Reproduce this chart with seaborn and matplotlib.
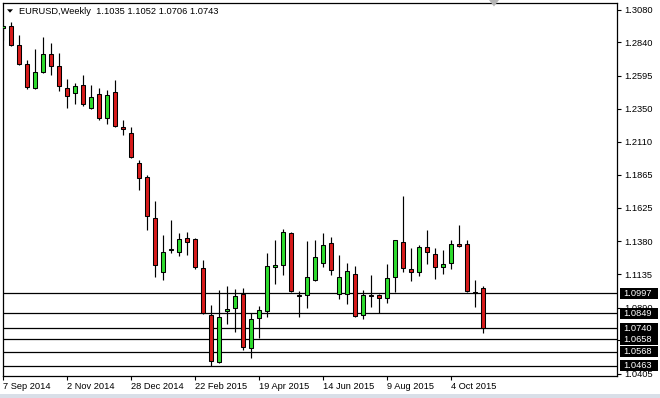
import matplotlib
matplotlib.use("Agg")
import matplotlib.pyplot as plt
import matplotlib.transforms as mtransforms
from matplotlib.patches import Rectangle, Polygon
import seaborn as sns
import numpy as np
import pandas as pd

# ---------------- data ----------------
symbol = "EURUSD,Weekly"
header_ohlc = ["1.1035", "1.1052", "1.0706", "1.0743"]

opens = [1.2946, 1.2959, 1.2819, 1.2680, 1.2505, 1.2621, 1.2753, 1.2665, 1.2503, 1.2467,
         1.2525, 1.2356, 1.2459, 1.2283, 1.2474, 1.2217, 1.2173, 1.1952, 1.1849, 1.1548,
         1.1151, 1.1320, 1.1298, 1.1401, 1.1394, 1.1181, 1.0835, 1.0490, 1.0865, 1.0887,
         1.0990, 1.0593, 1.0813, 1.0865, 1.1188, 1.1203, 1.1438, 1.0982, 1.0982, 1.1093,
         1.1217, 1.1364, 1.0990, 1.0990, 1.1137, 1.0835, 1.0982, 1.0982, 1.0960, 1.1115,
         1.1372, 1.1173, 1.1151, 1.1335, 1.1284, 1.1188, 1.1217, 1.1357, 1.1357, 1.1004,
         1.1035]
highs = [1.2968, 1.2988, 1.2895, 1.2711, 1.2787, 1.2878, 1.2834, 1.2760, 1.2569, 1.2540,
         1.2601, 1.2525, 1.2503, 1.2489, 1.2562, 1.2268, 1.2217, 1.1974, 1.1864, 1.1673,
         1.1423, 1.1533, 1.1438, 1.1445, 1.1405, 1.1239, 1.0909, 1.1019, 1.1051, 1.1026,
         1.1034, 1.0850, 1.0901, 1.1291, 1.1386, 1.1467, 1.1445, 1.1012, 1.1379, 1.1386,
         1.1438, 1.1408, 1.1276, 1.1217, 1.1195, 1.1018, 1.1129, 1.0990, 1.1210, 1.1390,
         1.1710, 1.1328, 1.1350, 1.1460, 1.1328, 1.1313, 1.1386, 1.1497, 1.1386, 1.1093,
         1.1052]
lows = [1.2858, 1.2815, 1.2669, 1.2493, 1.2500, 1.2615, 1.2601, 1.2478, 1.2356, 1.2386,
        1.2371, 1.2352, 1.2268, 1.2239, 1.2217, 1.2158, 1.1993, 1.1754, 1.1460, 1.1115,
        1.1093, 1.1291, 1.1269, 1.1276, 1.1173, 1.0843, 1.0461, 1.0483, 1.0769, 1.0710,
        1.0578, 1.0519, 1.0666, 1.0821, 1.1063, 1.1129, 1.1004, 1.0821, 1.0887, 1.1085,
        1.1188, 1.1129, 1.0953, 1.0916, 1.0825, 1.0806, 1.0894, 1.0850, 1.0924, 1.1009,
        1.1151, 1.1085, 1.1122, 1.1210, 1.1100, 1.1137, 1.1173, 1.1335, 1.1004, 1.0894,
        1.0706]
closes = [1.2959, 1.2819, 1.2680, 1.2511, 1.2621, 1.2753, 1.2662, 1.2518, 1.2444, 1.2518,
          1.2386, 1.2437, 1.2283, 1.2452, 1.2224, 1.2202, 1.1996, 1.1842, 1.1563, 1.1203,
          1.1298, 1.1313, 1.1394, 1.1372, 1.1188, 1.0850, 1.0497, 1.0821, 1.0879, 1.0975,
          1.0600, 1.0806, 1.0872, 1.1195, 1.1203, 1.1445, 1.1012, 1.0977, 1.1115, 1.1262,
          1.1350, 1.1166, 1.1115, 1.1159, 1.0828, 1.0982, 1.0975, 1.0960, 1.1107, 1.1386,
          1.1181, 1.1151, 1.1335, 1.1298, 1.1188, 1.1210, 1.1357, 1.1342, 1.1012, 1.0999,
          1.0743]

date_labels = ["7 Sep 2014", "2 Nov 2014", "28 Dec 2014", "22 Feb 2015",
               "19 Apr 2015", "14 Jun 2015", "9 Aug 2015", "4 Oct 2015"]
price_ticks = [1.3080, 1.2840, 1.2595, 1.2350, 1.2110, 1.1865, 1.1625,
               1.1380, 1.1135, 1.0890, 1.0650, 1.0405]
levels = [1.0997, 1.0849, 1.0740, 1.0658, 1.0568, 1.0463]

# ---------------- style ----------------
sns.set_theme(style="white")
FONT = ["Liberation Sans", "DejaVu Sans"]
plt.rcParams["font.family"] = FONT
FS = 6.7

W, H = 660, 398
fig = plt.figure(figsize=(W / 100, H / 100), dpi=100)
fig.patch.set_facecolor("white")

L, R, T, B = 2.5, 617.0, 2.7, 376.0
ax = fig.add_axes([L / W, 1 - B / H, (R - L) / W, (B - T) / H])
ax.set_facecolor("white")

df = pd.DataFrame({"open": opens, "high": highs, "low": lows, "close": closes})
df["x"] = np.arange(len(df))
df["up"] = df["close"] >= df["open"]
df["bottom"] = df[["open", "close"]].min(axis=1)
df["height"] = (df["close"] - df["open"]).abs()

RED = "#D71B1B"
GREEN = "#2EDC2E"

ax.vlines(df["x"], df["low"], df["high"], color="black", linewidth=0.85, zorder=2)
ax.bar(df["x"], df["height"], bottom=df["bottom"], width=0.62,
       color=np.where(df["up"], GREEN, RED), edgecolor="black",
       linewidth=0.75, zorder=3)

for lv in levels:
    ax.axhline(lv, color="black", linewidth=0.9, zorder=1)

ax.set_xlim(-0.0625, 76.75)
ax.set_ylim(1.0389, 1.3130)

for s in ax.spines.values():
    s.set_color("black")
    s.set_linewidth(0.9)
    s.set_visible(True)

# y axis on right
ax.yaxis.tick_right()
ax.set_yticks(price_ticks)
ax.set_yticklabels([f"{p:.4f}" for p in price_ticks])
ax.tick_params(axis="y", which="major", right=True, left=False, length=3, width=0.8,
               pad=2.5, labelsize=FS, colors="black", direction="out")

# x axis
ax.set_xticks(np.arange(len(date_labels)) * 8)
ax.set_xticklabels(date_labels)
for lab in ax.get_xticklabels():
    lab.set_horizontalalignment("left")
ax.tick_params(axis="x", which="major", bottom=True, length=3, width=0.8,
               pad=1.5, labelsize=FS, colors="black", direction="out")
ax.grid(False)

# level labels (black boxes on the price scale)
bt = mtransforms.blended_transform_factory(ax.transAxes, ax.transData)
box_h = 11 / 1361
x0 = (620 - L) / (R - L)
bw = 38 / (R - L)
for lv in levels:
    ax.add_patch(Rectangle((x0, lv - box_h / 2), bw, box_h, transform=bt,
                           facecolor="black", edgecolor="none", clip_on=False, zorder=5))
    ax.text((623 - L) / (R - L), lv, f"{lv:.4f}", transform=bt, color="white",
            fontsize=FS, va="center", ha="left", zorder=6, clip_on=False)

# header
fig.patches.append(Polygon([(7 / W, 1 - 9.3 / H), (13 / W, 1 - 9.3 / H), (10 / W, 1 - 12.7 / H)],
                           closed=True, transform=fig.transFigure, facecolor="black",
                           edgecolor="none"))
fig.text(19 / W, 1 - 11 / H, symbol + "  " + " ".join(header_ohlc), fontsize=FS,
         va="center", ha="left", color="black")

# chart shift marker
fig.patches.append(Polygon([(489 / W, 1.0), (499 / W, 1.0), (494 / W, 1 - 6.5 / H)],
                           closed=True, transform=fig.transFigure, facecolor="#b4b4b4",
                           edgecolor="none", zorder=10))

# bottom grey strip
fig.patches.append(Rectangle((0, 0), 1, 4 / H, transform=fig.transFigure,
                             facecolor="#d9dfe8", edgecolor="none"))

fig.savefig("out.png", dpi=100, facecolor="white")
